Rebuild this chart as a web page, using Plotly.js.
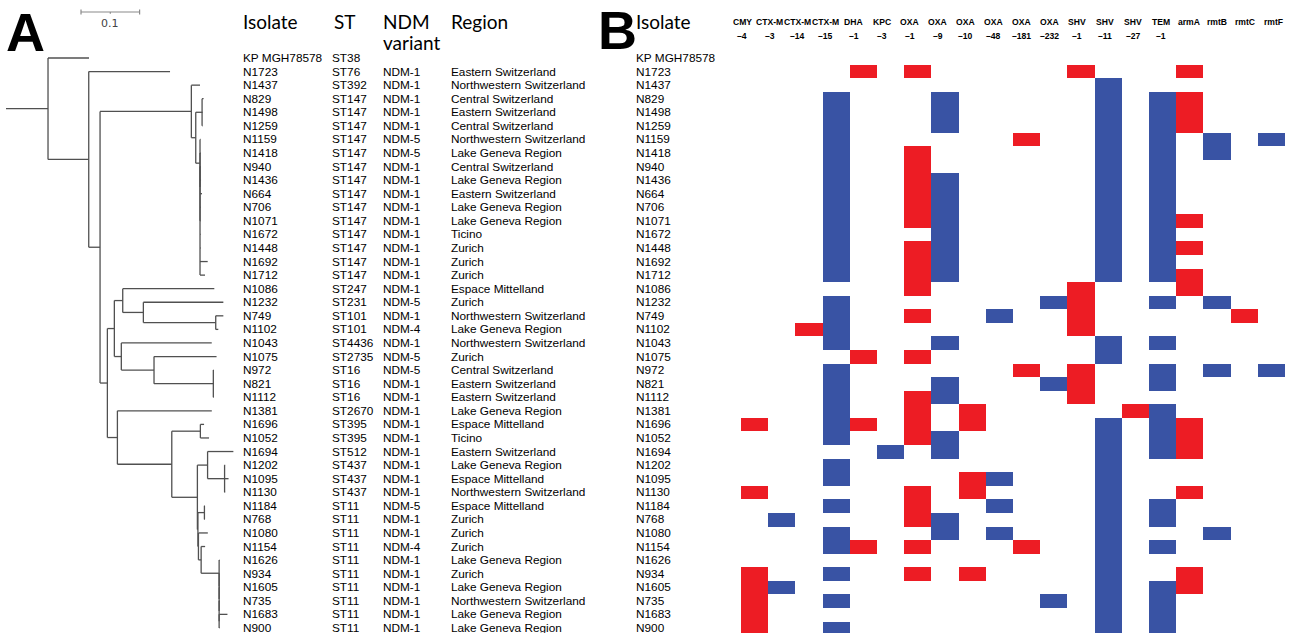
<!DOCTYPE html>
<html><head><meta charset="utf-8">
<script src="https://cdn.plot.ly/plotly-3.0.1.min.js"></script>
<style>html,body{margin:0;padding:0;background:#fff}#chart{width:1290px;height:633px}</style>
</head><body><div id="chart"></div>
<script>
// ---------------- DATA ----------------
const isolates = ["KP MGH78578","N1723","N1437","N829","N1498","N1259","N1159","N1418","N940","N1436","N664","N706","N1071","N1672","N1448","N1692","N1712","N1086","N1232","N749","N1102","N1043","N1075","N972","N821","N1112","N1381","N1696","N1052","N1694","N1202","N1095","N1130","N1184","N768","N1080","N1154","N1626","N934","N1605","N735","N1683","N900"];
const sts = ["ST38","ST76","ST392","ST147","ST147","ST147","ST147","ST147","ST147","ST147","ST147","ST147","ST147","ST147","ST147","ST147","ST147","ST247","ST231","ST101","ST101","ST4436","ST2735","ST16","ST16","ST16","ST2670","ST395","ST395","ST512","ST437","ST437","ST437","ST11","ST11","ST11","ST11","ST11","ST11","ST11","ST11","ST11","ST11"];
const ndmVariants = ["","NDM-1","NDM-1","NDM-1","NDM-1","NDM-1","NDM-5","NDM-5","NDM-1","NDM-1","NDM-1","NDM-1","NDM-1","NDM-1","NDM-1","NDM-1","NDM-1","NDM-1","NDM-5","NDM-1","NDM-4","NDM-1","NDM-5","NDM-5","NDM-1","NDM-1","NDM-1","NDM-1","NDM-1","NDM-1","NDM-1","NDM-1","NDM-1","NDM-5","NDM-1","NDM-1","NDM-4","NDM-1","NDM-1","NDM-1","NDM-1","NDM-1","NDM-1"];
const regions = ["","Eastern Switzerland","Northwestern Switzerland","Central Switzerland","Eastern Switzerland","Central Switzerland","Northwestern Switzerland","Lake Geneva Region","Central Switzerland","Lake Geneva Region","Eastern Switzerland","Lake Geneva Region","Lake Geneva Region","Ticino","Zurich","Zurich","Zurich","Espace Mittelland","Zurich","Northwestern Switzerland","Lake Geneva Region","Northwestern Switzerland","Zurich","Central Switzerland","Eastern Switzerland","Eastern Switzerland","Lake Geneva Region","Espace Mittelland","Ticino","Eastern Switzerland","Lake Geneva Region","Espace Mittelland","Northwestern Switzerland","Espace Mittelland","Zurich","Zurich","Zurich","Lake Geneva Region","Zurich","Lake Geneva Region","Northwestern Switzerland","Lake Geneva Region","Lake Geneva Region"];

const geneNames = ["CMY","CTX-M","CTX-M","CTX-M","DHA","KPC","OXA","OXA","OXA","OXA","OXA","OXA","SHV","SHV","SHV","TEM","armA","rmtB","rmtC","rmtF"];
const geneVariants = ["\u20134","\u20133","\u201314","\u201315","\u20131","\u20133","\u20131","\u20139","\u201310","\u201348","\u2013181","\u2013232","\u20131","\u201311","\u201327","\u20131","","","",""];

// gene presence per isolate, one char per gene column: B = blue, R = red, . = absent
const profiles = [
"....................",
"....R.R.....R...R...",
".............B......",
"...B...B.....B.BR...",
"...B...B.....B.BR...",
"...B...B.....B.BR...",
"...B......R..B.B.B.B",
"...B..R......B.B.B..",
"...B..R......B.B....",
"...B..RB.....B.B....",
"...B..RB.....B.B....",
"...B..RB.....B.B....",
"...B..RB.....B.BR...",
"...B...B.....B.B....",
"...B..RB.....B.BR...",
"...B..RB.....B.B....",
"...B..RB.....B.BR...",
"......R.....R...R...",
"...B.......BR..B.B..",
"...B..R..B..R.....R.",
"..RB........R.......",
"...B...B.....B.B....",
"....R.R......B......",
"...B......R.R..B.B.B",
"...B...B...BR..B....",
"...B..RB....R.......",
"...B..R.R.....RB....",
"R..BR.R.R....B.BR...",
"...B..RB.....B.BR...",
".....B.B.....B.BR...",
"...B.........B......",
"...B....RB...B......",
"R.....R.R....B..R...",
"...B..R..B...B.B....",
".B....RB.....B.B....",
"...B...B.B...B...B..",
"...BR.R...R..B.B....",
".............B......",
"R..B..R.R....B..R...",
"RB...........B.BR...",
"R..B.......B.B.B....",
"R............B.B....",
"R..B.........B.B...."
];

// phylogeny: [node, parent, branch length (substitutions/site)]
const treeEdges = [
["A","",0.0717],
["KP MGH78578","A",0.0700],
["B","A",0.0695],
["N1723","B",0.1387],
["C","B",0.0193],
["D","C",0.1558],
["N1437","D",0.0148],
["F","D",0.0075],
["G","F",0.0108],
["N829","G",0.0026],["N1498","G",0.0009],["N1259","G",0.0009],
["H","F",0.0073],
["N1159","H",0.0009],["H2","H",0],
["N1418","H2",0.0009],["H3","H2",0],
["N940","H3",0.0009],["N1436","H3",0.0017],["N664","H3",0.0034],["N706","H3",0.0009],["N1071","H3",0.0009],["N1672","H3",0.0009],["N1448","H3",0.0009],["N1692","H3",0.0131],["N1712","H3",0.0085],
["E","C",0.0125],
["I","E",0.0119],
["K","I",0.0143],
["N1086","K",0.1563],
["M","K",0.0352],
["N1232","M",0.1365],
["N","M",0.1235],
["N749","N",0.0130],["N1102","N",0.0044],
["L","I",0.0119],
["N1043","L",0.1543],
["O","L",0.0558],
["N1075","O",0.1067],
["P","O",0.1012],
["N972","P",0.0009],["N821","P",0.0009],["N1112","P",0.0009],
["J","E",0.0171],
["N1381","J",0.1611],
["Q","J",0.0928],
["R","Q",0.0488],
["N1696","R",0.0063],["N1052","R",0.0148],
["S","Q",0.0437],
["T","S",0.0174],
["N1694","T",0.0440],
["U","T",0.0290],
["N1202","U",0.0009],["N1095","U",0.0068],["N1130","U",0.0009],
["V","S",0.0009],
["W","V",0.0111],
["N1184","W",0.0009],["N768","W",0.0009],
["X","V",0.0009],
["N1080","X",0.0160],
["Y","X",0.0046],
["N1154","Y",0.0068],
["Z","Y",0.0307],
["N1626","Z",0.0009],["Z2","Z",0],
["N934","Z2",0.0009],["Z3","Z2",0],
["N1605","Z3",0.0009],["Z4","Z3",0],
["N735","Z4",0.0009],["Z5","Z4",0],
["N1683","Z5",0.0142],["N900","Z5",0.0009]
];
const scaleBar = {start:0.128, length:0.1, label:"0.1"};

// ---------------- LAYOUT HELPERS ----------------
const W=1290, H=633;
const ROW0=58, ROWH=13.57;
const yRange=[(H-ROW0)/ROWH, -ROW0/ROWH];
const rowAt = py => (py-ROW0)/ROWH;
const TREE_PX0=6, PX_PER_UNIT=586, TREE_DOM_PX=258;
const HEAT_PX=[741,1285];
const px = v => v/W;
const py = v => 1 - v/H;

// ---------------- TREE ----------------
const nodes={}; let rootName=null;
treeEdges.forEach(([n,p,len])=>{nodes[n]={name:n,len:len,children:[]};});
treeEdges.forEach(([n,p])=>{ if(p) nodes[p].children.push(nodes[n]); else rootName=n; });
function place(node,x0){
  node.x0=x0; node.x1=x0+node.len;
  if(!node.children.length){ node.y=isolates.indexOf(node.name); }
  else { node.children.forEach(c=>place(c,node.x1));
    node.y=(node.children[0].y+node.children[node.children.length-1].y)/2; }
}
place(nodes[rootName],0);
const tx=[],ty=[];
(function seg(node){
  tx.push(node.x0,node.x1,null); ty.push(node.y,node.y,null);
  if(node.children.length){
    tx.push(node.x1,node.x1,null);
    ty.push(node.children[0].y,node.children[node.children.length-1].y,null);
    node.children.forEach(seg);
  }
})(nodes[rootName]);

const traces=[];
traces.push({type:'scatter',mode:'lines',x:tx,y:ty,xaxis:'x',yaxis:'y',
  line:{color:'#505050',width:1.3},hoverinfo:'skip',showlegend:false});

// scale bar
const sbY=rowAt(12), tk=0.18;
const sbx0=scaleBar.start, sbx1=scaleBar.start+scaleBar.length, sbm=(sbx0+sbx1)/2;
traces.push({type:'scatter',mode:'lines',
  x:[sbx0,sbx1,null,sbx0,sbx0,null,sbx1,sbx1,null,sbm,sbm],
  y:[sbY,sbY,null,sbY-tk,sbY+tk,null,sbY-tk,sbY+tk,null,sbY,sbY+tk*0.7],
  xaxis:'x',yaxis:'y',line:{color:'#8a8a8a',width:1.2},hoverinfo:'skip',showlegend:false});

// heatmap
const z = profiles.map(p=>p.split('').map(c=>c==='B'?1:(c==='R'?2:null)));
traces.push({type:'heatmap',x:geneNames.map((_,i)=>i),y:isolates.map((_,i)=>i),z:z,
  xaxis:'x2',yaxis:'y',zmin:0.5,zmax:2.5,
  colorscale:[[0,'#3953a4'],[0.5,'#3953a4'],[0.5,'#ed1c24'],[1,'#ed1c24']],
  showscale:false,hoverinfo:'skip',xgap:0,ygap:0});

// ---------------- TEXT ----------------
const ann=[];
const rowFont={family:'Liberation Sans, Arial, sans-serif',size:11.8,color:'#000'};
const headFont={family:'Lato, Open Sans, sans-serif',size:19,color:'#000'};
function rowText(x,row,t){ if(t) ann.push({xref:'paper',yref:'y',x:px(x),y:row,text:t,showarrow:false,xanchor:'left',yanchor:'middle',font:rowFont,borderpad:0}); }
function headText(x,y,t,font,anchor){ ann.push({xref:'paper',yref:'paper',x:px(x),y:py(y),text:t,showarrow:false,xanchor:anchor||'left',yanchor:'middle',font:font||headFont,borderpad:0}); }

const COLS={iso:242,st:331,ndm:382,reg:450,isoB:635};
isolates.forEach((n,i)=>{
  rowText(COLS.iso,i,n); rowText(COLS.st,i,sts[i]); rowText(COLS.ndm,i,ndmVariants[i]); rowText(COLS.reg,i,regions[i]);
  rowText(COLS.isoB,i,n);
});
headText(242,22,'Isolate'); headText(333,22,'ST'); headText(382,22,'NDM'); headText(382,42,'variant'); headText(450,22,'Region');
headText(635,22,'Isolate');
const bigFont={family:'Liberation Sans, Arial, sans-serif',size:54,color:'#000'};
headText(5,32,'<b>A</b>',bigFont); headText(597,30,'<b>B</b>',bigFont);
ann.push({xref:'x',yref:'y',x:sbm,y:rowAt(23),text:scaleBar.label,showarrow:false,xanchor:'center',yanchor:'middle',
  font:{family:'DejaVu Sans, sans-serif',size:11,color:'#444'}});

const geneFont={family:'Liberation Sans Narrow, Arial Narrow, Liberation Sans, sans-serif',size:8.6,color:'#000'};
geneNames.forEach((g,i)=>{
  const cx=742+i*(1273-742)/(geneNames.length-1);
  headText(cx,22,'<b>'+g+'</b>',geneFont,'center');
  if(geneVariants[i]) headText(cx,36,'<b>'+geneVariants[i]+'</b>',geneFont,'center');
});

const layout={width:W,height:H,margin:{l:0,r:0,t:0,b:0},paper_bgcolor:'#fff',plot_bgcolor:'rgba(0,0,0,0)',
  showlegend:false,
  xaxis:{domain:[0,TREE_DOM_PX/W],range:[-TREE_PX0/PX_PER_UNIT,(TREE_DOM_PX-TREE_PX0)/PX_PER_UNIT],visible:false,fixedrange:true},
  xaxis2:{domain:[HEAT_PX[0]/W,HEAT_PX[1]/W],range:[-0.5,geneNames.length-0.5],visible:false,anchor:'y',fixedrange:true},
  yaxis:{domain:[0,1],range:yRange,visible:false,fixedrange:true},
  annotations:ann};
Plotly.newPlot('chart',traces,layout,{staticPlot:true,displayModeBar:false});
</script></body></html>
